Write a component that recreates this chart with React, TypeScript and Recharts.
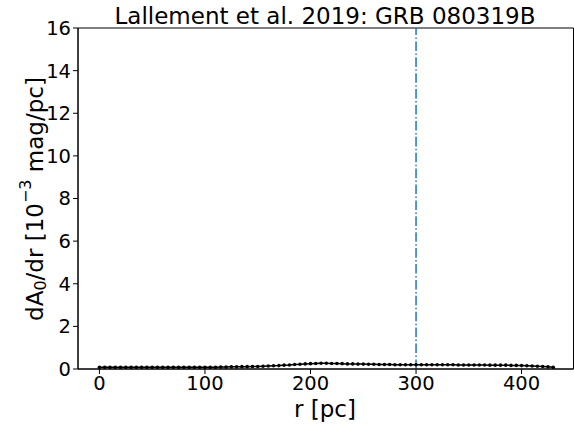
import React from 'react';
import { LineChart, Line, XAxis, YAxis, ReferenceLine, ReferenceArea } from 'recharts';

const distances = [
  0, 5, 10, 15, 20, 25, 30, 35, 40, 45,
  50, 55, 60, 65, 70, 75, 80, 85, 90, 95,
  100, 105, 110, 115, 120, 125, 130, 135, 140, 145,
  150, 155, 160, 165, 170, 175, 180, 185, 190, 195,
  200, 205, 210, 215, 220, 225, 230, 235, 240, 245,
  250, 255, 260, 265, 270, 275, 280, 285, 290, 295,
  300, 305, 310, 315, 320, 325, 330, 335, 340, 345,
  350, 355, 360, 365, 370, 375, 380, 385, 390, 395,
  400, 405, 410, 415, 420, 425, 430,
];

const extinction = [
  0.08, 0.08, 0.08, 0.08, 0.08, 0.08, 0.08, 0.08, 0.08, 0.08,
  0.08, 0.08, 0.08, 0.08, 0.08, 0.08, 0.08, 0.08, 0.08, 0.08,
  0.08, 0.08, 0.08, 0.09, 0.09, 0.10, 0.10, 0.11, 0.11, 0.12,
  0.12, 0.13, 0.14, 0.15, 0.16, 0.18, 0.19, 0.21, 0.22, 0.24,
  0.25, 0.26, 0.27, 0.27, 0.26, 0.26, 0.25, 0.24, 0.24, 0.23,
  0.23, 0.22, 0.22, 0.21, 0.21, 0.21, 0.20, 0.20, 0.20, 0.20,
  0.20, 0.20, 0.20, 0.20, 0.20, 0.20, 0.20, 0.20, 0.19, 0.19,
  0.19, 0.19, 0.19, 0.19, 0.18, 0.18, 0.18, 0.18, 0.17, 0.17,
  0.16, 0.15, 0.14, 0.13, 0.12, 0.10, 0.08,
];

const xTicks = [0, 100, 200, 300, 400];
const yTicks = [0, 2, 4, 6, 8, 10, 12, 14, 16];
const xDomain = [-20.3, 449.2];
const markerDistance = 300;
const titleText = 'Lallement et al. 2019: GRB 080319B';

const data = distances.map((r, i) => ({ r, v: extinction[i] }));

const FONT = 'DejaVu Sans, sans-serif';

const YLabel = () => (
  <text
    x={35}
    y={199}
    transform="rotate(-90, 35, 199)"
    textAnchor="middle"
    dominantBaseline="central"
    fontFamily={FONT}
    fontSize={23}
    fill="#000"
  >
    dA<tspan fontSize={16} dy={5}>0</tspan>
    <tspan dy={-5}>/dr [10</tspan>
    <tspan fontSize={16} dy={-10}>−3</tspan>
    <tspan dy={10}> mag/pc]</tspan>
  </text>
);

const XLabel = () => (
  <text x={325} y={409} textAnchor="middle" dominantBaseline="central" fontFamily={FONT} fontSize={23} fill="#000">
    r [pc]
  </text>
);

export default function App() {
  return (
    <div style={{ position: 'absolute', left: 0, top: 0, width: 574, height: 425, background: '#fff' }}>
      <div
        style={{
          position: 'absolute',
          left: 0,
          width: 650,
          top: 2,
          textAlign: 'center',
          fontFamily: FONT,
          fontSize: 23,
          lineHeight: '28px',
          color: '#000',
          whiteSpace: 'nowrap',
        }}
      >
        {titleText}
      </div>
      <LineChart width={574} height={425} data={data} margin={{ top: 28, right: 0.5, left: 0, bottom: 0 }}>
        <XAxis
          dataKey="r"
          type="number"
          domain={xDomain}
          ticks={xTicks}
          allowDataOverflow
          stroke="#000"
          tickLine={{ stroke: '#000' }}
          tickSize={5}
          tick={{ fill: '#000', fontSize: 19.5, fontFamily: FONT }}
          height={56}
          label={<XLabel />}
        />
        <YAxis
          type="number"
          domain={[0, 16]}
          ticks={yTicks}
          allowDataOverflow
          stroke="#000"
          tickLine={{ stroke: '#000' }}
          tickSize={5}
          tick={{ fill: '#000', fontSize: 19.5, fontFamily: FONT }}
          width={78}
          label={<YLabel />}
        />
        <ReferenceArea x1={xDomain[0]} x2={xDomain[1]} y1={0} y2={16} fill="none" stroke="#000" strokeWidth={1} ifOverflow="extendDomain" />
        <ReferenceLine x={markerDistance} stroke="#1f77b4" strokeWidth={1.5} strokeDasharray="9.6 2.4 1.5 2.4" />
        <Line
          type="linear"
          dataKey="v"
          stroke="#000"
          strokeWidth={1.5}
          dot={{ r: 1.8, fill: '#000', stroke: '#000', strokeWidth: 0 }}
          isAnimationActive={false}
        />
      </LineChart>
    </div>
  );
}
